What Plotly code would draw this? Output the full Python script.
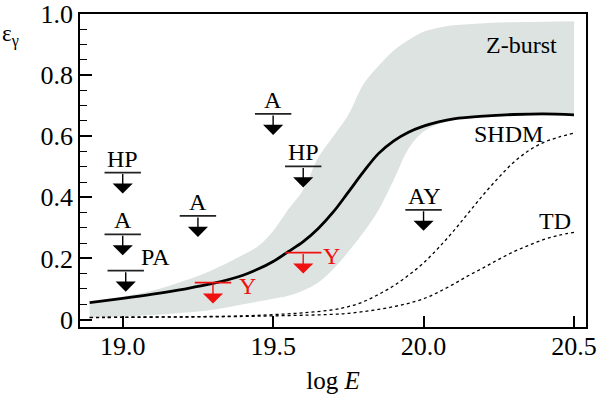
import plotly.graph_objects as go

# ---------------- data ----------------
# Solid curve (SHDM)
SHDM_X = [18.89, 19.0, 19.1, 19.2, 19.3, 19.4, 19.45, 19.5, 19.55, 19.6, 19.65, 19.7,
          19.75, 19.8, 19.85, 19.9, 19.95, 20.0, 20.05, 20.1, 20.2, 20.3, 20.4, 20.5]
SHDM_Y = [0.055, 0.069, 0.083, 0.099, 0.118, 0.145, 0.165, 0.19, 0.222, 0.255, 0.298, 0.352,
          0.417, 0.483, 0.543, 0.584, 0.613, 0.633, 0.647, 0.657, 0.666, 0.671, 0.673, 0.670]

# Z-burst band, upper and lower edges
ZB_UP_X = [18.89, 19.0, 19.1, 19.2, 19.3, 19.4, 19.45, 19.5, 19.55, 19.6, 19.65, 19.7,
           19.75, 19.8, 19.85, 19.9, 19.95, 20.0, 20.05, 20.1, 20.2, 20.3, 20.4, 20.5]
ZB_UP_Y = [0.055, 0.075, 0.095, 0.125, 0.163, 0.212, 0.24, 0.29, 0.36, 0.425, 0.53, 0.60,
           0.67, 0.77, 0.83, 0.88, 0.915, 0.942, 0.955, 0.963, 0.97, 0.973, 0.975, 0.976]
ZB_LO_X = [18.89, 19.0, 19.1, 19.2, 19.3, 19.4, 19.5, 19.55, 19.6, 19.65, 19.7, 19.75,
           19.8, 19.85, 19.9, 19.95, 20.0, 20.05, 20.1, 20.2, 20.3, 20.4, 20.5]
ZB_LO_Y = [0.006, 0.01, 0.015, 0.022, 0.032, 0.05, 0.068, 0.078, 0.095, 0.121, 0.165, 0.222,
           0.285, 0.358, 0.455, 0.559, 0.615, 0.64, 0.652, 0.662, 0.666, 0.668, 0.668]

# Dotted curves
DOT_X = [18.89, 19.0, 19.2, 19.4, 19.5, 19.6, 19.7, 19.75, 19.8, 19.85, 19.9, 19.95,
         20.0, 20.05, 20.1, 20.15, 20.2, 20.25, 20.3, 20.35, 20.4, 20.45, 20.5]
DOT_SHDM_Y = [0.007, 0.008, 0.009, 0.012, 0.016, 0.022, 0.032, 0.042, 0.058, 0.082, 0.11, 0.145,
              0.185, 0.235, 0.29, 0.35, 0.41, 0.465, 0.515, 0.553, 0.58, 0.597, 0.61]
DOT_TD_Y = [0.006, 0.007, 0.008, 0.01, 0.012, 0.014, 0.017, 0.02, 0.026, 0.033, 0.042, 0.053,
            0.068, 0.09, 0.116, 0.144, 0.17, 0.197, 0.222, 0.243, 0.262, 0.276, 0.285]

# Upper limits (black)
LIM_X = [19.0, 19.0, 19.01, 19.25, 19.5, 19.6, 20.0]
LIM_Y = [0.481, 0.279, 0.160, 0.339, 0.673, 0.501, 0.359]
LIM_LABEL = ["HP", "A", "", "A", "A", "HP", "AY"]
# Upper limits (red)
RED_X = [19.30, 19.60]
RED_Y = [0.121, 0.219]
RED_LABEL = ["Y", "Y"]

# Curve labels
CURVE_LABEL = ["Z-burst", "SHDM", "TD"]
CURVE_LABEL_X = [20.327, 20.283, 20.436]
CURVE_LABEL_Y = [0.897, 0.608, 0.323]

X_TICKS = [19.0, 19.5, 20.0, 20.5]
X_TICKTEXT = ["19.0", "19.5", "20.0", "20.5"]
Y_TICKS = [0, 0.2, 0.4, 0.6, 0.8, 1.0]
Y_TICKTEXT = ["0", "0.2", "0.4", "0.6", "0.8", "1.0"]

# ---------------- style ----------------
FONT = "Times New Roman, Liberation Serif, Times, serif"
GRAY = "#dde3e1"
RED = "#f01010"
ARROW_PX = 21

fig = go.Figure()

fig.add_trace(go.Scatter(x=ZB_LO_X, y=ZB_LO_Y, mode="lines",
                         line=dict(width=0, color=GRAY, shape="spline"),
                         hoverinfo="skip", showlegend=False))
fig.add_trace(go.Scatter(x=ZB_UP_X, y=ZB_UP_Y, mode="lines", fill="tonexty",
                         fillcolor=GRAY, line=dict(width=0, color=GRAY, shape="spline"),
                         hoverinfo="skip", showlegend=False))

fig.add_trace(go.Scatter(x=DOT_X, y=DOT_SHDM_Y, mode="lines",
                         line=dict(color="black", width=1.3, dash="dot", shape="spline"),
                         showlegend=False))
fig.add_trace(go.Scatter(x=DOT_X, y=DOT_TD_Y, mode="lines",
                         line=dict(color="black", width=1.3, dash="dot", shape="spline"),
                         showlegend=False))
fig.add_trace(go.Scatter(x=SHDM_X, y=SHDM_Y, mode="lines",
                         line=dict(color="black", width=2.8, shape="spline"),
                         showlegend=False))

# limit bars
fig.add_trace(go.Scatter(x=LIM_X, y=LIM_Y, mode="markers",
                         marker=dict(symbol="line-ew", size=26,
                                     line=dict(color="#222222", width=1.8)),
                         showlegend=False))
fig.add_trace(go.Scatter(x=RED_X, y=RED_Y, mode="markers",
                         marker=dict(symbol="line-ew", size=26,
                                     line=dict(color=RED, width=1.8)),
                         showlegend=False))

annotations = []


def add_arrow(x, y, color):
    annotations.append(dict(
        x=x, y=y, xref="x", yref="y", text="", showarrow=True,
        ax=0, ay=-ARROW_PX, yshift=-ARROW_PX, arrowhead=1, arrowsize=2.4,
        arrowwidth=1.4, arrowcolor=color, standoff=0))


for x, y, lab in zip(LIM_X, LIM_Y, LIM_LABEL):
    add_arrow(x, y, "black")
    if lab:
        annotations.append(dict(x=x, y=y, xref="x", yref="y", text=lab, showarrow=False,
                                yanchor="bottom", yshift=-1,
                                font=dict(family=FONT, size=24, color="black")))

# PA label (belongs to the third black limit)
annotations.append(dict(x=LIM_X[2], y=LIM_Y[2], xref="x", yref="y", text="PA",
                        showarrow=False, xanchor="center", yanchor="middle",
                        xshift=30, yshift=14,
                        font=dict(family=FONT, size=24, color="black")))

red_shift = [(35, -3), (28, -3)]
for (x, y, lab), (dx, dy) in zip(zip(RED_X, RED_Y, RED_LABEL), red_shift):
    add_arrow(x, y, RED)
    annotations.append(dict(x=x, y=y, xref="x", yref="y", text=lab, showarrow=False,
                            xanchor="center", yanchor="middle", xshift=dx, yshift=dy,
                            font=dict(family=FONT, size=24, color=RED)))

for lab, x, y in zip(CURVE_LABEL, CURVE_LABEL_X, CURVE_LABEL_Y):
    annotations.append(dict(x=x, y=y, xref="x", yref="y", text=lab, showarrow=False,
                            xanchor="center", yanchor="middle",
                            font=dict(family=FONT, size=24, color="black")))

# y-axis title
annotations.append(dict(x=-0.158, y=0.93, xref="paper", yref="paper",
                        text="ε<sub>γ</sub>", showarrow=False,
                        xanchor="left", yanchor="middle",
                        font=dict(family=FONT, size=23, color="black")))

fig.update_layout(
    width=599, height=402,
    margin=dict(l=80, r=13, t=14, b=75, autoexpand=False),
    paper_bgcolor="white", plot_bgcolor="white",
    font=dict(family=FONT, size=26, color="black"),
    annotations=annotations,
    showlegend=False,
)

fig.update_xaxes(
    range=[18.858, 20.54], tickvals=X_TICKS, ticktext=X_TICKTEXT,
    ticks="inside", ticklen=11, tickwidth=1.5, tickcolor="black",
    showline=True, linecolor="black", linewidth=1.5, mirror=True,
    showgrid=False, zeroline=False, automargin=False,
    tickfont=dict(family=FONT, size=26),
    title=dict(text="log <i>E</i>", font=dict(family=FONT, size=25), standoff=12),
)
fig.update_yaxes(
    range=[-0.0245, 1.0], tickvals=Y_TICKS, ticktext=Y_TICKTEXT,
    ticks="inside", ticklen=12, tickwidth=1.5, tickcolor="black",
    minor=dict(dtick=0.05, tick0=0, ticks="inside", ticklen=7, tickwidth=1.3,
               tickcolor="black", showgrid=False),
    showline=True, linecolor="black", linewidth=1.5, mirror=True,
    showgrid=False, zeroline=False, automargin=False,
    tickfont=dict(family=FONT, size=26),
)

try:
    fig.update_xaxes(ticklabelstandoff=-5)
except Exception:
    pass

fig.write_html("out.html",
               config={"displayModeBar": False},
               post_script="document.body.style.margin='0';document.body.style.overflow='hidden';")
